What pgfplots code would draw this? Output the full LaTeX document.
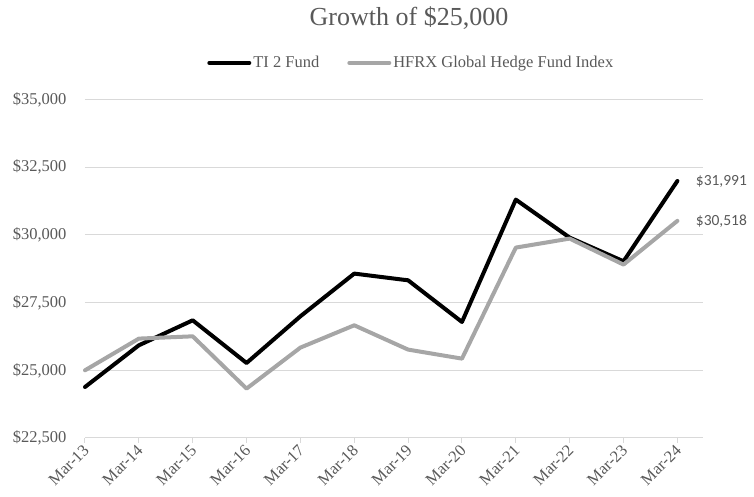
\documentclass[border=0pt]{standalone}
\usepackage{fontspec}
\setmainfont{Liberation Serif}
\newfontfamily\carlito{Carlito}
\usepackage{pgfplots}
\pgfplotsset{compat=1.18}
\definecolor{txt}{HTML}{595959}
\definecolor{gridc}{HTML}{D9D9D9}
\definecolor{hfrx}{HTML}{A6A6A6}
\begin{document}
\begin{tikzpicture}[x=1pt,y=1pt]
\path[use as bounding box] (0,0) rectangle (754,497);
\node[text=txt, font=\fontsize{26}{29}\selectfont] at (409,479) {Growth of \$25,000};
\begin{axis}[
  at={(85pt,59pt)}, anchor=south west,
  scale only axis, width=618pt, height=338.5pt,
  xmin=0, xmax=11.476, ymin=22500, ymax=35000,
  ytick={22500,25000,27500,30000,32500,35000},
  scaled y ticks=false,
  xtick={0,...,11},
  xticklabels={Mar-13,Mar-14,Mar-15,Mar-16,Mar-17,Mar-18,Mar-19,Mar-20,Mar-21,Mar-22,Mar-23,Mar-24},
  axis x line*=bottom, axis y line*=left,
  y axis line style={draw=none},
  x axis line style={draw=gridc, line width=1pt},
  ymajorgrids, grid style={draw=gridc, line width=1pt},
  tick align=outside, major tick length=5pt,
  xtick style={draw=gridc, line width=1pt},
  ytick style={draw=none},
  /pgf/number format/assume math mode=true,
  yticklabel={\$\pgfmathprintnumber[fixed,precision=0,1000 sep={,}]{\tick}},
  yticklabel style={font=\fontsize{16.5}{19}\selectfont, text=txt, xshift=-10pt},
  xticklabel style={font=\fontsize{16.5}{18}\selectfont, text=txt, rotate=45, anchor=east, yshift=-4pt, xshift=1pt},
  legend style={at={(0.528,1.108)}, anchor=center, draw=none, fill=none,
    font=\fontsize{16.5}{19}\selectfont, text=txt,
    /tikz/every even column/.append style={column sep=26pt}},
  legend columns=2, legend cell align=left,
  legend image code/.code={\draw[#1] (0pt,0pt) -- (40pt,0pt);},
  clip=false,
]
\addplot[black, line width=4pt, line join=round, line cap=round] coordinates {
(0,24383) (1,25923) (2,26846) (3,25270) (4,26994) (5,28571)
(6,28323) (7,26785) (8,31303) (9,29900) (10,29025) (11,31991)};
\addlegendentry{TI 2 Fund}
\addplot[hfrx, line width=4pt, line join=round, line cap=round] coordinates {
(0,25000) (1,26170) (2,26255) (3,24324) (4,25838) (5,26662)
(6,25764) (7,25431) (8,29531) (9,29863) (10,28903) (11,30518)};
\addlegendentry{HFRX Global Hedge Fund Index}
\node[anchor=west, xshift=15pt, text=txt, font=\carlito\fontsize{15.5}{17}\selectfont] at (axis cs:11,31991) {\$31,991};
\node[anchor=west, xshift=15pt, text=txt, font=\carlito\fontsize{15.5}{17}\selectfont] at (axis cs:11,30518) {\$30,518};
\end{axis}
\end{tikzpicture}
\end{document}
